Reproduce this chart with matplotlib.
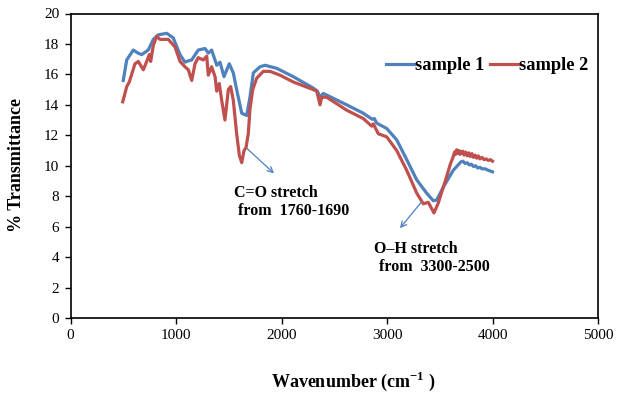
import matplotlib
matplotlib.use("Agg")
import matplotlib.pyplot as plt

# ---------------- data ----------------
s1_x = [500, 533, 595, 640, 675, 737, 785, 832, 912, 974, 1038, 1085, 1120, 1149, 1211,
        1275, 1306, 1338, 1386, 1417, 1455, 1505, 1543, 1575, 1623, 1670, 1701, 1733,
        1796, 1844, 1955, 2112, 2301, 2340, 2365, 2396, 2500, 2618, 2775, 2860, 2880,
        2902, 2997, 3092, 3187, 3282, 3376, 3439, 3471, 3534, 3628, 3680, 3700,
        3720, 3740, 3760, 3780, 3800, 3820, 3840, 3860, 3880, 3900, 3930, 3960, 4000]
s1_y = [15.6, 16.95, 17.6, 17.4, 17.3, 17.6, 18.3, 18.6, 18.7, 18.4, 17.3, 16.8, 16.9, 16.95, 17.6,
        17.7, 17.4, 17.6, 16.6, 16.8, 15.85, 16.7, 16.1, 15.0, 13.45, 13.3, 14.5, 16.1,
        16.5, 16.6, 16.4, 15.85, 15.1, 14.9, 14.5, 14.75, 14.4, 14.0, 13.45, 13.05, 13.1,
        12.8, 12.45, 11.7, 10.4, 9.07, 8.2, 7.7, 7.75, 8.6, 9.7, 10.1, 10.25,
        10.3, 10.15, 10.2, 10.05, 10.1, 9.95, 10.0, 9.85, 9.9, 9.8, 9.8, 9.7, 9.6]

s2_x = [495, 533, 557, 611, 643, 690, 722, 747, 760, 785, 817, 848, 927, 991, 1038,
        1085, 1117, 1149, 1180, 1211, 1259, 1291, 1306, 1338, 1370, 1386, 1410, 1433,
        1464, 1496, 1518, 1543, 1575, 1600, 1623, 1645, 1664, 1685, 1701, 1727, 1765,
        1827, 1891, 1986, 2112, 2301, 2334, 2365, 2381, 2428, 2618, 2775, 2855, 2870,
        2918, 2997, 3092, 3187, 3282, 3344, 3391, 3445, 3486, 3566, 3600, 3628, 3640,
        3650, 3660, 3670, 3680, 3690, 3700, 3710, 3720, 3730, 3745, 3760, 3775, 3790,
        3805, 3820, 3835, 3850, 3865, 3880, 3900, 3920, 3940, 3960, 3980, 4000]
s2_y = [14.2, 15.2, 15.5, 16.7, 16.85, 16.3, 16.85, 17.3, 16.85, 17.9, 18.5, 18.3, 18.3, 17.8, 16.85,
        16.5, 16.3, 15.6, 16.7, 17.1, 16.95, 17.2, 15.95, 16.5, 15.85, 14.9, 15.4, 14.3,
        13.0, 15.0, 15.2, 14.3, 12.1, 10.7, 10.2, 11.0, 11.2, 12.1, 13.7, 15.0, 15.75,
        16.2, 16.2, 15.95, 15.5, 15.0, 14.9, 14.0, 14.5, 14.5, 13.65, 13.1, 12.6, 12.75,
        12.1, 11.9, 11.0, 9.7, 8.2, 7.5, 7.6, 6.9, 7.55, 9.3, 10.1, 10.6, 10.9,
        10.75, 11.05, 10.8, 11.0, 10.75, 10.95, 10.8, 10.95, 10.7, 10.9, 10.65, 10.85, 10.6,
        10.8, 10.55, 10.7, 10.5, 10.65, 10.45, 10.55, 10.4, 10.45, 10.35, 10.4, 10.3]

series_names = ["sample 1", "sample 2"]
series_colors = ["#4F81BD", "#C0504D"]

x_ticks = [0, 1000, 2000, 3000, 4000, 5000]
y_ticks = [0, 2, 4, 6, 8, 10, 12, 14, 16, 18, 20]

# ---------------- style ----------------
plt.rcParams['font.family'] = ['Liberation Serif', 'DejaVu Serif']
plt.rcParams['mathtext.fontset'] = 'custom'
plt.rcParams['mathtext.rm'] = 'Liberation Serif'
plt.rcParams['mathtext.bf'] = 'Liberation Serif:bold'

fig = plt.figure(figsize=(6.2, 3.96), dpi=100)
ax = fig.add_axes([70.5 / 620, 1 - 318 / 396, (598 - 70.5) / 620, (318 - 13.5) / 396])

ax.plot(s1_x, s1_y, color=series_colors[0], lw=2.3, label=series_names[0], solid_joinstyle='round')
ax.plot(s2_x, s2_y, color=series_colors[1], lw=2.3, label=series_names[1], solid_joinstyle='round')

ax.set_xlim(0, 5000)
ax.set_ylim(0, 20)
ax.set_xticks(x_ticks)
ax.set_yticks(y_ticks)
ax.tick_params(direction='out', length=4, width=1, labelsize=11, colors='black', pad=4)
for sp in ax.spines.values():
    sp.set_linewidth(1.2)
    sp.set_color('black')

# annotations
arrow_kw = dict(arrowstyle='->', color='#4F81BD', lw=0.9, shrinkA=0, shrinkB=0)
ax.annotate('', xy=(1929, 9.5), xytext=(1670, 11.15), arrowprops=arrow_kw)
ax.annotate('', xy=(3123, 5.9), xytext=(3329, 7.64), arrowprops=arrow_kw)

ax.text(1550, 8.2, 'C=O stretch', fontsize=11.5, fontweight='bold', ha='left', va='center')
ax.text(1588, 7.0, 'from  1760-1690', fontsize=11.5, fontweight='bold', ha='left', va='center')
ax.text(2877, 4.5, 'O\u2013H stretch', fontsize=11.5, fontweight='bold', ha='left', va='center')
ax.text(2924, 3.33, 'from  3300-2500', fontsize=11.5, fontweight='bold', ha='left', va='center')

fig.legend(loc='center left', bbox_to_anchor=(386 / 620, 1 - 65.5 / 396), ncol=2, frameon=False,
           prop={'weight': 'bold', 'size': 13.2}, handlelength=1.55, handletextpad=0.05,
           columnspacing=0.3, borderpad=0, borderaxespad=0)

fig.text(353 / 620, 1 - 381 / 396, 'Wavenumber (cm$^{\\mathbf{-1}}$ )', fontsize=13,
         fontweight='bold', ha='center', va='center')
fig.text(17 / 620, 1 - 165 / 396, '% Transmittance', fontsize=13, fontweight='bold',
         ha='center', va='center', rotation=90)

fig.savefig('out.png', dpi=100)
